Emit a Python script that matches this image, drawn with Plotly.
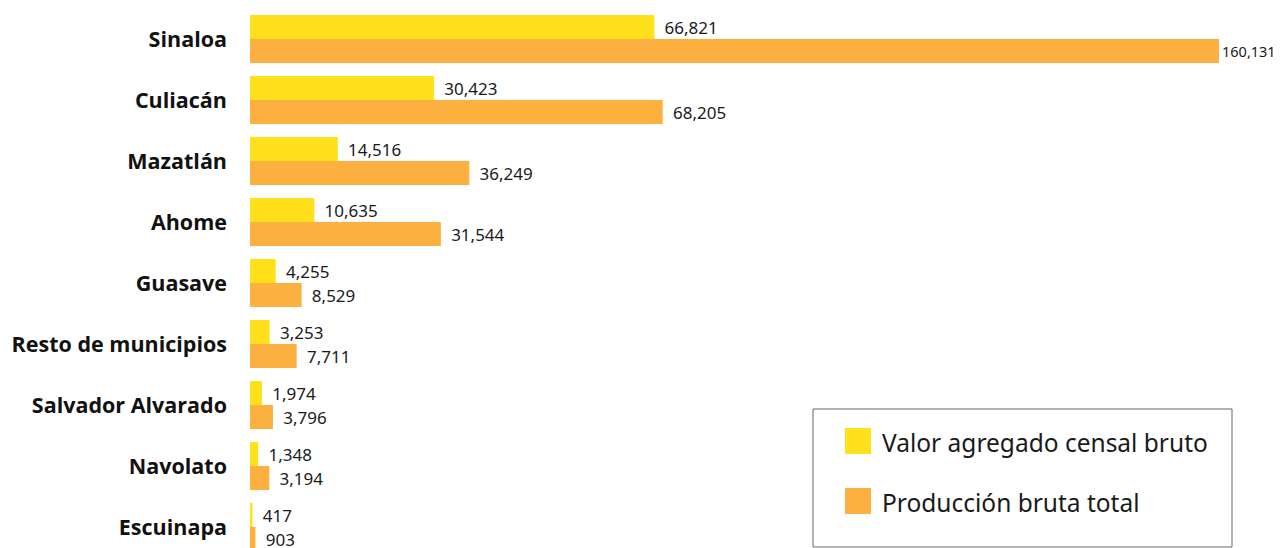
import plotly.graph_objects as go

categories = ["Sinaloa", "Culiacán", "Mazatlán", "Ahome", "Guasave",
              "Resto de municipios", "Salvador Alvarado", "Navolato", "Escuinapa"]
valor_agregado = [66821, 30423, 14516, 10635, 4255, 3253, 1974, 1348, 417]
produccion_bruta = [160131, 68205, 36249, 31544, 8529, 7711, 3796, 3194, 903]
series_names = ["Valor agregado censal bruto", "Producción bruta total"]

YELLOW = "#FFE01A"
ORANGE = "#FCB040"
OFF = 8  # page body margin
W, H = 1281 - OFF, 548 - OFF
ML, MT = 250 - OFF, 0
PW, PH = W - ML, H - MT
BAND = 61.0
LABEL_SIZE = 17

def fmt(v, pad=True):
    return ("\u00a0\u2009" if pad else "") + f"{v:,}"

vmax = max(produccion_bruta)
prod_text = [fmt(v, pad=(v != vmax)) for v in produccion_bruta]
prod_sizes = [14.5 if v == vmax else LABEL_SIZE for v in produccion_bruta]

fig = go.Figure()
fig.add_trace(go.Bar(
    y=categories, x=valor_agregado, orientation="h", name=series_names[0],
    marker=dict(color=YELLOW, line=dict(width=0)),
    text=[fmt(v) for v in valor_agregado], textposition="outside",
    textfont=dict(family="Noto Sans", size=LABEL_SIZE, color="#1a1a1a"),
    constraintext="none", cliponaxis=False, showlegend=False,
))
fig.add_trace(go.Bar(
    y=categories, x=produccion_bruta, orientation="h", name=series_names[1],
    marker=dict(color=ORANGE, line=dict(width=0)),
    text=prod_text, textposition="outside",
    textfont=dict(family="Noto Sans", size=prod_sizes, color="#1a1a1a"),
    constraintext="none", cliponaxis=False, showlegend=False,
))

def px_x(p):
    return (p - OFF - ML) / PW

def px_y(p):
    return (H - (p - OFF)) / PH

shapes = [
    dict(type="rect", xref="paper", yref="paper",
         x0=px_x(813), x1=px_x(1232), y0=px_y(547), y1=px_y(409),
         line=dict(color="#666666", width=1), fillcolor="white", layer="above"),
    dict(type="rect", xref="paper", yref="paper",
         x0=px_x(845), x1=px_x(871), y0=px_y(454), y1=px_y(428),
         line=dict(width=0), fillcolor=YELLOW, layer="above"),
    dict(type="rect", xref="paper", yref="paper",
         x0=px_x(845), x1=px_x(871), y0=px_y(514), y1=px_y(488),
         line=dict(width=0), fillcolor=ORANGE, layer="above"),
]
annotations = [
    dict(xref="paper", yref="paper", x=px_x(880), y=px_y(442), text=series_names[0],
         xanchor="left", yanchor="middle", showarrow=False,
         font=dict(family="Noto Sans", size=24.5, color="#1a1a1a")),
    dict(xref="paper", yref="paper", x=px_x(880), y=px_y(502), text=series_names[1],
         xanchor="left", yanchor="middle", showarrow=False,
         font=dict(family="Noto Sans", size=24.5, color="#1a1a1a")),
]

top_val = -0.5 - 0.5 / BAND
fig.update_layout(
    width=W, height=H,
    margin=dict(l=ML, r=0, t=MT, b=0, pad=0, autoexpand=False),
    paper_bgcolor="white", plot_bgcolor="white",
    barmode="group", bargap=0.213, bargroupgap=0,
    shapes=shapes, annotations=annotations,
    xaxis=dict(range=[0, PW * 160131 / 969], visible=False, showgrid=False,
               zeroline=False, automargin=False),
    yaxis=dict(range=[top_val + PH / BAND, top_val], showgrid=False, zeroline=False,
               showline=False, ticks="", ticklabelstandoff=22, automargin=False,
               tickfont=dict(family="Open Sans", size=21.5, color="#111111", weight="bold")),
    showlegend=False,
)

fig.write_html("out.html")
